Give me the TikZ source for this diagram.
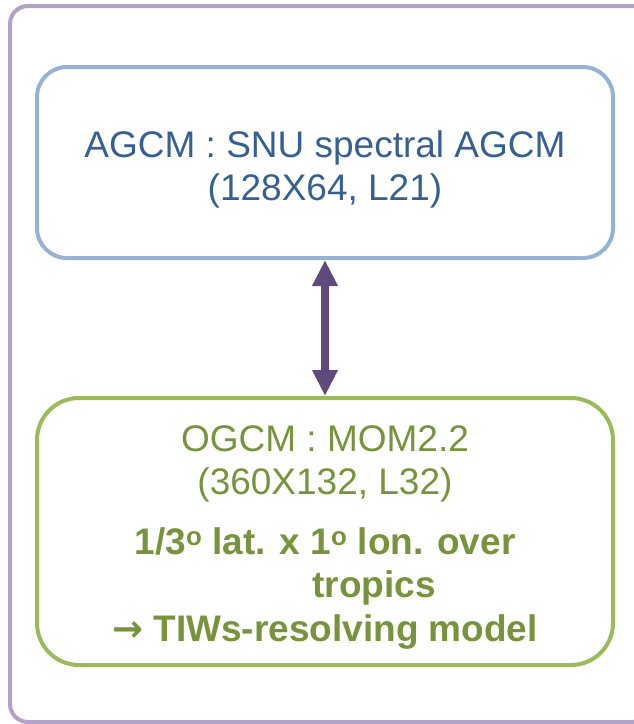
\documentclass[tikz,border=0pt]{standalone}
\usepackage{fontspec}
\setmainfont{Liberation Sans}
\newfontfamily\arrowfont{DejaVu Sans}
\usetikzlibrary{arrows.meta}
\definecolor{framepurple}{HTML}{B3A2C7}
\definecolor{agcmblue}{HTML}{95B3D7}
\definecolor{agcmtext}{HTML}{376092}
\definecolor{ogcmgreen}{HTML}{9BBB59}
\definecolor{ogcmtext}{HTML}{77933C}
\definecolor{arrowpurple}{HTML}{604A7B}
\begin{document}
\begin{tikzpicture}[x=1pt, y=-1pt,
    modelbox/.style={draw, line width=4pt, minimum width=576pt, align=center,
        font=\fontsize{37}{43.5}\selectfont},
    coupling/.style={arrowpurple, line width=8pt, {Triangle[width=24pt,length=26pt]}-{Triangle[width=24pt,length=26pt]}}]
        \useasboundingbox (0, 0) rectangle (633, 724);
        \draw[framepurple, line width=4pt, rounded corners=18pt] (10, 6) rectangle (650, 722);
        \node[modelbox, agcmblue, text=agcmtext, minimum height=191pt, rounded corners=30pt] (agcm) at (325, 162.5)
            {\rule{0pt}{41pt}AGCM : SNU spectral AGCM\\(128X64, L21)};
        \node[modelbox, ogcmgreen, text=ogcmtext, minimum height=267pt, rounded corners=42pt] (ogcm) at (325, 531.5)
            {\rule{0pt}{37pt}OGCM : MOM2.2\\(360X132, L32)\\[16pt]
            \textbf{1/3\textsuperscript{o} lat. x 1\textsuperscript{o} lon. over}\\
            \hspace*{98pt}\textbf{tropics}\\
            \textbf{{\arrowfont\bfseries →} TIWs-resolving model}};
        \draw[coupling] (agcm.south) -- (ogcm.north);
        \end{tikzpicture}
\end{document}
